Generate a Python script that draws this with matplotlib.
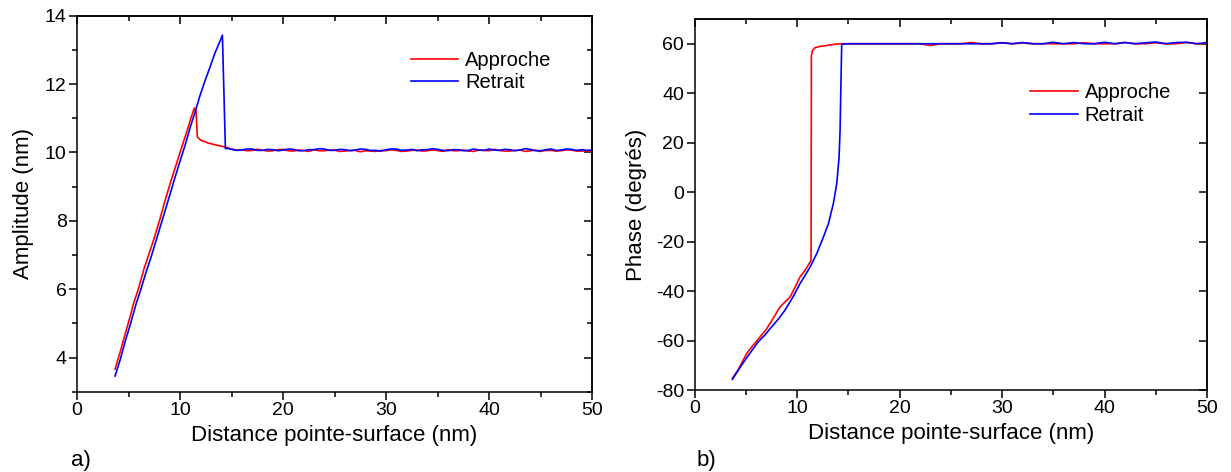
import matplotlib
matplotlib.use("Agg")
import matplotlib.pyplot as plt
import numpy as np
from matplotlib.ticker import MultipleLocator

plt.rcParams["font.family"] = ["Liberation Sans", "DejaVu Sans"]
plt.rcParams["axes.unicode_minus"] = False

# ---------------------------------------------------------------------------
# Donnees
# ---------------------------------------------------------------------------
flat_x = [15, 16, 17, 18, 19, 20, 21, 22, 23, 24, 25, 26, 27, 28, 29, 30, 31, 32,
          33, 34, 35, 36, 37, 38, 39, 40, 41, 42, 43, 44, 45, 46, 47, 48, 49, 50]
flat_x_fine = [15, 15.5, 16, 16.5, 17, 17.5, 18, 18.5, 19, 19.5, 20, 20.5, 21, 21.5,
               22, 22.5, 23, 23.5, 24, 24.5, 25, 25.5, 26, 26.5, 27, 27.5, 28, 28.5,
               29, 29.5, 30, 30.5, 31, 31.5, 32, 32.5, 33, 33.5, 34, 34.5, 35, 35.5,
               36, 36.5, 37, 37.5, 38, 38.5, 39, 39.5, 40, 40.5, 41, 41.5, 42, 42.5,
               43, 43.5, 44, 44.5, 45, 45.5, 46, 46.5, 47, 47.5, 48, 48.5, 49, 49.5, 50]

# a) amplitude - approche
amp_app_x = [3.69, 4.2, 4.7, 5.2, 5.47, 6.0, 6.5, 7.0, 7.41, 8.0, 8.5, 9.13, 9.6,
             10.1, 10.7, 11.1, 11.39, 11.55, 11.68, 12.0, 12.26, 12.8, 13.56, 14.37]
amp_app_y = [3.66, 4.18, 4.72, 5.25, 5.57, 6.05, 6.6, 7.05, 7.42, 8.0, 8.55, 9.18, 9.62,
             10.1, 10.65, 11.05, 11.30, 11.2, 10.45, 10.36, 10.33, 10.27, 10.21, 10.16]
amp_app_flat = [10.10, 10.07, 10.08, 10.05, 10.06, 10.09, 10.07, 10.04, 10.05, 10.08,
                10.09, 10.05, 10.04, 10.07, 10.06, 10.03, 10.08, 10.05, 10.05, 10.07,
                10.07, 10.03, 10.04, 10.06, 10.06, 10.02, 10.05, 10.04, 10.03, 10.06,
                10.05, 10.08, 10.06, 10.03, 10.04, 10.06, 10.07, 10.04, 10.05, 10.07,
                10.06, 10.03, 10.08, 10.05, 10.05, 10.07, 10.04, 10.03, 10.07, 10.06,
                10.05, 10.09, 10.06, 10.04, 10.04, 10.06, 10.07, 10.03, 10.05, 10.07,
                10.03, 10.06, 10.06, 10.04, 10.05, 10.08, 10.07, 10.04, 10.04, 10.05,
                10.02]

# a) amplitude - retrait
amp_ret_x = [3.69, 4.2, 4.7, 5.2, 5.73, 6.2, 6.7, 7.2, 7.67, 8.2, 8.7, 9.42, 10.0,
             10.5, 11.0, 11.5, 11.94, 12.4, 12.91, 13.4, 13.8, 14.11, 14.4, 14.6]
amp_ret_y = [3.46, 3.95, 4.5, 5.0, 5.57, 6.0, 6.5, 6.95, 7.42, 7.95, 8.45, 9.18, 9.75,
             10.22, 10.75, 11.22, 11.67, 12.08, 12.5, 12.92, 13.2, 13.43, 10.11, 10.12]
amp_ret_flat = [10.09, 10.06, 10.07, 10.10, 10.10, 10.06, 10.06, 10.09, 10.08, 10.05,
                10.07, 10.10, 10.09, 10.05, 10.05, 10.08, 10.08, 10.11, 10.10, 10.06,
                10.06, 10.09, 10.08, 10.05, 10.07, 10.10, 10.09, 10.06, 10.06, 10.04,
                10.08, 10.10, 10.10, 10.06, 10.07, 10.09, 10.05, 10.08, 10.08, 10.11,
                10.09, 10.06, 10.05, 10.08, 10.08, 10.05, 10.06, 10.10, 10.07, 10.06,
                10.10, 10.07, 10.06, 10.09, 10.08, 10.05, 10.07, 10.11, 10.09, 10.05,
                10.05, 10.08, 10.10, 10.06, 10.07, 10.10, 10.09, 10.06, 10.08, 10.06,
                10.07]

# b) phase - approche
ph_app_x = [3.69, 4.3, 5.09, 5.7, 6.39, 7.0, 7.6, 8.34, 9.32, 9.8, 10.29, 10.8,
            11.27, 11.37, 11.4, 11.5, 11.76, 12.2, 12.57, 13.2, 13.87, 14.5]
ph_app_y = [-75.3, -71.5, -65.2, -62.0, -58.5, -55.5, -51.5, -46.4, -42.4, -38.5,
            -34.3, -31.5, -28.3, -27.5, 55.0, 57.2, 58.4, 58.9, 59.1, 59.5, 59.9, 60.0]
ph_app_flat = [60.0, 60.0, 60.0, 60.0, 60.0, 60.0, 60.0, 60.0, 59.3, 60.0, 60.0, 60.0,
               60.5, 60.0, 60.0, 60.4, 60.0, 60.3, 60.0, 60.0, 60.0, 60.0, 60.0, 60.4,
               60.0, 60.0, 60.0, 60.5, 60.0, 60.0, 60.4, 60.0, 60.0, 60.5, 60.0, 60.0]

# b) phase - retrait
ph_ret_x = [3.69, 4.3, 4.93, 5.6, 6.22, 6.9, 7.52, 8.2, 8.83, 9.6, 10.29, 10.8,
            11.27, 11.92, 12.57, 13.06, 13.54, 13.87, 14.1, 14.2, 14.29, 14.36]
ph_ret_y = [-75.7, -71.8, -67.9, -64.0, -60.5, -57.6, -54.5, -51.2, -47.7, -42.4,
            -37.0, -33.6, -30.3, -24.9, -18.2, -12.8, -4.7, 3.3, 14.0, 24.8, 45.0, 59.8]
ph_ret_flat = [60.0, 60.0, 60.0, 60.0, 60.0, 60.0, 60.0, 60.0, 60.0, 60.0, 60.0, 60.0,
               60.0, 60.0, 60.0, 60.4, 60.0, 60.5, 60.0, 60.0, 60.6, 60.0, 60.5, 60.0,
               60.0, 60.6, 60.0, 60.5, 60.0, 60.4, 60.7, 60.0, 60.5, 60.6, 60.0, 60.5]

LABELS = ["Approche", "Retrait"]
COLORS = ["#ff0000", "#0000ff"]


def style_axes(ax):
    for sp in ax.spines.values():
        sp.set_linewidth(1.1)
    ax.tick_params(which="both", direction="out", top=False, right=False,
                   labelsize=14, pad=1.5, width=1.1)
    ax.tick_params(which="major", length=6)
    ax.tick_params(which="minor", length=3.5)
    ax.xaxis.set_major_locator(MultipleLocator(10))
    ax.xaxis.set_minor_locator(MultipleLocator(5))
    ax.set_xlim(0, 50)
    # ticks rentrants en haut et a droite
    sec_x = ax.secondary_xaxis("top")
    sec_x.tick_params(which="both", direction="in", labeltop=False, width=1.1)
    sec_x.tick_params(which="major", length=6)
    sec_x.tick_params(which="minor", length=3.5)
    sec_x.xaxis.set_major_locator(MultipleLocator(10))
    sec_x.xaxis.set_minor_locator(MultipleLocator(5))
    sec_x.spines["top"].set_linewidth(1.1)
    sec_y = ax.secondary_yaxis("right")
    sec_y.tick_params(which="both", direction="in", labelright=False, width=1.1)
    sec_y.tick_params(which="major", length=6)
    sec_y.tick_params(which="minor", length=3.5)
    sec_y.spines["right"].set_linewidth(1.1)
    return sec_y


fig = plt.figure(figsize=(12.31, 4.72), dpi=100)
ax1 = fig.add_axes([0.0626, 0.1701, 0.4184, 0.7966])
ax2 = fig.add_axes([0.5642, 0.1737, 0.4163, 0.786])

# --- a) amplitude
ax1.plot(amp_app_x + flat_x_fine, amp_app_y + amp_app_flat, color=COLORS[0], lw=1.2, label=LABELS[0])
ax1.plot(amp_ret_x + flat_x_fine, amp_ret_y + amp_ret_flat, color=COLORS[1], lw=1.2, label=LABELS[1])
ax1.set_ylim(3, 14)
sec1 = style_axes(ax1)
ax1.yaxis.set_major_locator(MultipleLocator(2))
ax1.yaxis.set_minor_locator(MultipleLocator(1))
sec1.yaxis.set_major_locator(MultipleLocator(2))
sec1.yaxis.set_minor_locator(MultipleLocator(1))
ax1.set_xlabel("Distance pointe-surface (nm)", fontsize=16, labelpad=4)
ax1.set_ylabel("Amplitude (nm)", fontsize=16, labelpad=8)
ax1.legend(loc="upper left", bbox_to_anchor=(0.648, 0.905), frameon=False,
           fontsize=14.5, handlelength=2.35, handletextpad=0.35,
           labelspacing=0.15, borderpad=0, borderaxespad=0)

# --- b) phase
ax2.plot(ph_app_x + flat_x, ph_app_y + ph_app_flat, color=COLORS[0], lw=1.2, label=LABELS[0])
ax2.plot(ph_ret_x + flat_x, ph_ret_y + ph_ret_flat, color=COLORS[1], lw=1.2, label=LABELS[1])
ax2.set_ylim(-80, 70)
sec2 = style_axes(ax2)
ax2.yaxis.set_major_locator(MultipleLocator(20))
ax2.yaxis.set_minor_locator(MultipleLocator(20))
sec2.yaxis.set_major_locator(MultipleLocator(20))
sec2.yaxis.set_minor_locator(MultipleLocator(20))
ax2.set_xlabel("Distance pointe-surface (nm)", fontsize=16, labelpad=4)
ax2.set_ylabel("Phase (degrés)", fontsize=16, labelpad=6)
ax2.legend(loc="upper left", bbox_to_anchor=(0.655, 0.827), frameon=False,
           fontsize=14.5, handlelength=2.35, handletextpad=0.35,
           labelspacing=0.2, borderpad=0, borderaxespad=0)

fig.text(0.058, 0.012, "a)", fontsize=16)
fig.text(0.566, 0.012, "b)", fontsize=16)

fig.savefig("out.png", dpi=100)
